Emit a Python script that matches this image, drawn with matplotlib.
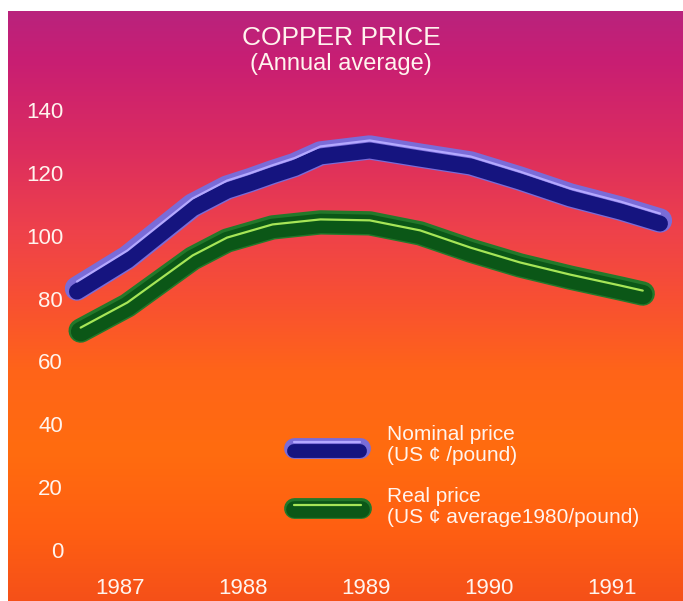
import numpy as np
import matplotlib
matplotlib.use('Agg')
import matplotlib.pyplot as plt
from matplotlib.transforms import offset_copy

plt.rcParams['font.family'] = ['Liberation Sans', 'DejaVu Sans']

# values (time in fractional years, US cents per pound)
t_nominal = [1986.65, 1987.06, 1987.59, 1987.87, 1988.06, 1988.24, 1988.42, 1988.63,
             1989.03, 1989.44, 1989.85, 1990.25, 1990.66, 1991.07, 1991.39]
nominal = [83.2, 93.1, 109.7, 115.4, 117.8, 120.3, 122.6, 126.3,
           128.2, 125.6, 123.1, 118.3, 112.9, 108.7, 104.9]
t_real = [1986.68, 1987.06, 1987.59, 1987.87, 1988.24, 1988.63, 1989.03, 1989.44,
          1989.85, 1990.25, 1990.66, 1991.07, 1991.25]
real = [69.8, 77.8, 92.8, 98.5, 102.7, 104.3, 104.0, 100.8,
        95.3, 90.6, 86.7, 83.2, 81.6]
years = [1987, 1988, 1989, 1990, 1991]
yticks = [0, 20, 40, 60, 80, 100, 120, 140]

W, H = 683, 601
fig = plt.figure(figsize=(W/100, H/100), dpi=100)
fig.patch.set_facecolor('white')
rect = [8/W, 0, (W-8)/W, (H-11)/H]

# background gradient, magenta at the top to orange at the bottom
bg = fig.add_axes(rect)
rows = np.arange(11, H)
stops_y = [11, 60, 150, 230, 300, 370, 450, 530, 601]
stops_c = [(185, 35, 125), (200, 30, 115), (220, 45, 95), (238, 65, 75), (248, 80, 50),
           (255, 100, 25), (255, 108, 15), (255, 95, 18), (245, 80, 25)]
col = np.zeros((len(rows), 1, 3))
for k in range(3):
    col[:, 0, k] = np.interp(rows, stops_y, [c[k] for c in stops_c]) / 255.0
bg.imshow(col, aspect='auto', extent=[0, 1, 0, 1], interpolation='bilinear')
bg.set_axis_off()

ax = fig.add_axes(rect)
ax.patch.set_alpha(0)
for s in ax.spines.values():
    s.set_visible(False)
ax.set_xlim(1987 + (8-120)/123.0, 1987 + (683-120)/123.0)
ax.set_ylim(-(601-549.5)/3.136, (549.5-11)/3.136)


def tube(x, y, trans_base, outer, core, hi, lw_out, lw_core, core_dy, hi_dy, zo):
    ax.plot(x, y, color=outer, lw=lw_out, solid_capstyle='round', solid_joinstyle='round',
            transform=trans_base, zorder=zo)
    ax.plot(x, y, color=core, lw=lw_core, solid_capstyle='round', solid_joinstyle='round',
            transform=offset_copy(trans_base, fig=fig, x=0, y=core_dy, units='dots'), zorder=zo+0.1)
    ax.plot(x, y, color=hi, lw=1.6, solid_capstyle='round', solid_joinstyle='round',
            transform=offset_copy(trans_base, fig=fig, x=0, y=hi_dy, units='dots'), zorder=zo+0.2)


blue = ('#7a6cd8', '#15147f', '#b4a8ff', 17.5, 11.5, -3, 7)
green = ('#23782a', '#0b5717', '#a6e657', 17.5, 14, -1, 3)

tube(t_nominal, nominal, ax.transData, *blue, zo=3)
tube(t_real, real, ax.transData, *green, zo=2)

# legend swatches and texts
def fx(px):
    return (px - 8) / (W - 8.0)

def fy(py):
    return (H - py) / (H - 11.0)

tube([fx(294), fx(360)], [fy(448), fy(448)], ax.transAxes, *blue[:3], 15, 10, -3, 6, zo=4)
tube([fx(294), fx(361)], [fy(508), fy(508)], ax.transAxes, *green[:3], 15, 12, -1, 3, zo=4)

tc = '#fff4ee'
ax.text(fx(387), fy(440), 'Nominal price', transform=ax.transAxes, color=tc, fontsize=15, va='baseline')
ax.text(fx(387), fy(461), '(US \u00a2 /pound)', transform=ax.transAxes, color=tc, fontsize=15, va='baseline')
ax.text(fx(387), fy(502), 'Real price', transform=ax.transAxes, color=tc, fontsize=15, va='baseline')
ax.text(fx(387), fy(523), '(US \u00a2 average1980/pound)', transform=ax.transAxes, color=tc, fontsize=15, va='baseline')

# ticks drawn inside the coloured area
ax.set_yticks(yticks)
ax.set_yticklabels([str(v) for v in yticks])
ax.set_xticks(years)
ax.set_xticklabels([str(v) for v in years])
ax.tick_params(axis='y', length=0, pad=-(63-8)*0.72, labelsize=16, labelcolor=tc)
ax.tick_params(axis='x', length=0, pad=-(601-586)*0.72, labelsize=16, labelcolor=tc)
for lab in ax.get_xticklabels():
    lab.set_va('center_baseline')

fig.text(341/W, 1-38/H, 'COPPER PRICE', ha='center', va='center', fontsize=19, color=tc)
fig.text(341/W, 1-64/H, '(Annual average)', ha='center', va='center', fontsize=17, color=tc)

plt.savefig('out.png', dpi=100)
